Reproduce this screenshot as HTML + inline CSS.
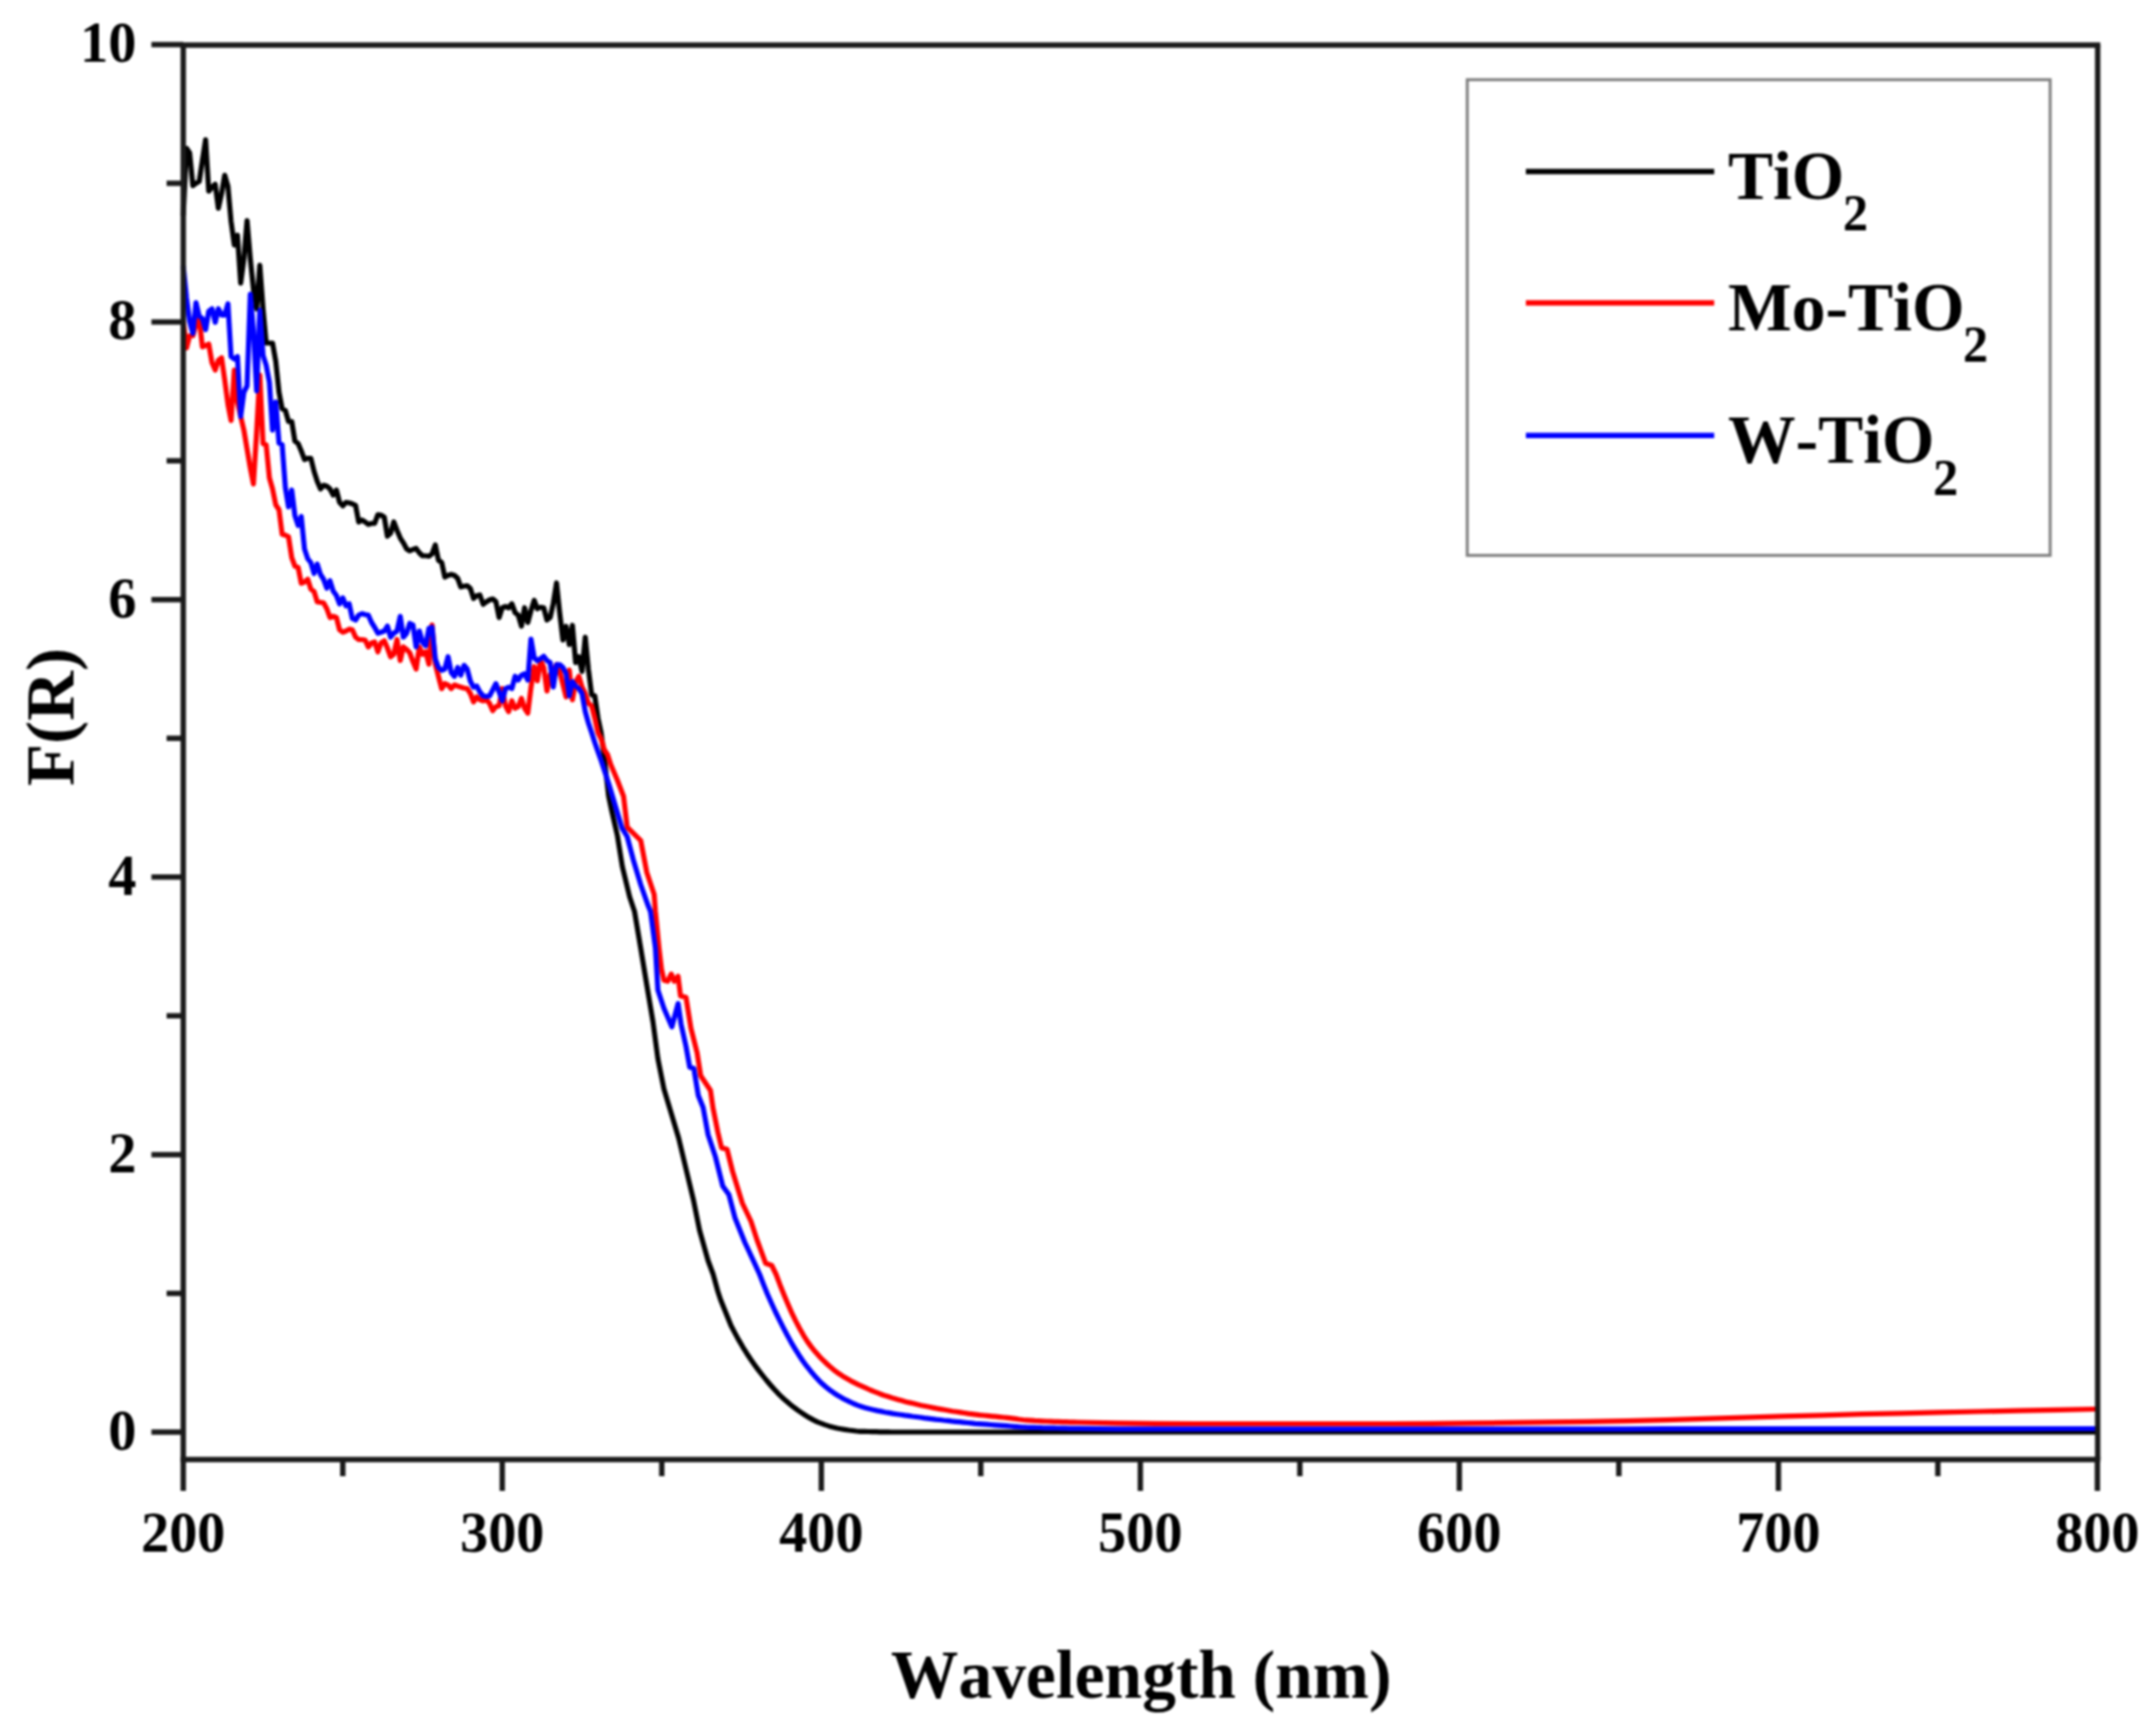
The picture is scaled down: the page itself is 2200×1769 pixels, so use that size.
<!DOCTYPE html>
<html><head><meta charset="utf-8"><title>F(R) vs Wavelength</title>
<style>
html,body{margin:0;padding:0;background:#fff;}
body{width:2200px;height:1769px;overflow:hidden;}
svg{display:block;filter:blur(0.8px);}
text{font-family:"Liberation Serif","Times New Roman",serif;font-weight:bold;fill:#000;font-kerning:none;}
</style></head><body>
<svg width="2200" height="1769" viewBox="0 0 2200 1769">
<rect width="2200" height="1769" fill="#fff"/>

<g fill="none" stroke-linejoin="round" stroke-linecap="butt" clip-path="url(#clip)">
<path d="M187.0 220.0 L190.3 151.3 L193.5 156.0 L196.8 189.4 L200.0 187.0 L203.3 185.0 L206.5 163.8 L209.8 142.5 L213.0 195.0 L216.3 191.0 L219.6 188.0 L222.8 212.5 L226.1 197.5 L229.3 178.8 L232.6 190.0 L235.8 226.0 L239.1 250.0 L242.3 240.0 L245.6 288.8 L248.9 264.0 L252.1 225.0 L255.4 264.0 L258.6 295.0 L261.9 315.0 L265.1 270.6 L268.4 315.0 L271.6 350.0 L274.9 350.0 L278.1 350.0 L281.4 368.8 L284.7 400.0 L287.9 417.0 L291.2 418.8 L294.4 430.0 L297.7 430.0 L300.9 450.0 L304.2 452.5 L307.4 460.0 L310.7 468.8 L314.0 467.5 L317.2 467.5 L320.5 481.0 L323.7 491.0 L327.0 498.8 L330.2 495.0 L333.5 496.0 L336.7 498.8 L340.0 505.0 L343.3 500.0 L346.5 512.5 L349.8 516.0 L353.0 512.5 L356.3 513.0 L359.5 514.0 L362.8 515.6 L366.0 532.5 L369.3 530.6 L372.6 532.5 L375.8 535.0 L379.1 534.0 L382.3 533.8 L385.6 525.0 L388.8 525.6 L392.1 527.5 L395.3 547.0 L398.6 543.8 L401.8 532.5 L405.1 541.0 L408.4 548.8 L411.6 553.8 L414.9 560.0 L418.1 562.0 L421.4 560.5 L424.6 559.5 L427.9 564.0 L431.1 567.0 L434.4 567.0 L437.7 567.5 L440.9 565.0 L444.2 556.0 L447.4 571.5 L450.7 573.8 L453.9 588.8 L457.2 587.0 L460.4 586.0 L463.7 587.0 L467.0 590.0 L470.2 598.8 L473.5 598.0 L476.7 597.5 L480.0 600.5 L483.2 610.5 L486.5 607.8 L489.7 607.0 L493.0 616.5 L496.3 614.0 L499.5 612.0 L502.8 611.0 L506.0 613.8 L509.3 630.0 L512.5 620.0 L515.8 618.8 L519.0 620.0 L522.3 616.0 L525.6 625.0 L528.8 627.5 L532.1 638.8 L535.3 620.0 L538.6 635.0 L541.8 623.0 L545.1 612.5 L548.3 621.0 L551.6 619.5 L554.8 620.0 L558.1 632.5 L561.4 630.0 L564.6 615.5 L567.9 594.7 L571.1 625.0 L574.4 653.0 L577.6 639.0 L580.9 657.5 L584.1 638.0 L587.4 676.0 L590.7 670.0 L593.9 685.0 L597.2 650.0 L600.4 682.5 L603.7 708.8 L606.9 710.0 L610.2 732.5 L613.4 747.5 L616.0 768.0 L621.0 812.0 L624.2 827.3 L630.0 852.5 L635.0 883.8 L642.5 915.0 L647.5 930.0 L653.8 967.5 L660.0 1005.0 L666.3 1042.5 L671.3 1080.0 L677.5 1111.0 L683.8 1132.0 L692.5 1161.0 L700.0 1192.5 L707.5 1223.8 L713.8 1255.0 L722.5 1286.0 L727.7 1300.0 L732.5 1317.5 L735.3 1326.0 L746.0 1352.5 L750.0 1360.1 L754.0 1367.4 L758.0 1374.3 L762.0 1380.7 L766.0 1386.7 L770.0 1392.4 L774.0 1397.9 L778.0 1403.0 L782.0 1408.0 L786.0 1412.7 L790.0 1417.3 L794.0 1421.6 L798.0 1425.5 L802.0 1429.1 L806.0 1432.5 L810.0 1435.7 L814.0 1438.7 L818.0 1441.4 L822.0 1444.0 L826.0 1446.4 L830.0 1448.6 L834.0 1450.6 L838.0 1452.1 L842.0 1453.6 L846.0 1454.9 L850.0 1456.0 L854.0 1457.0 L858.0 1457.7 L862.0 1458.4 L866.0 1459.0 L870.0 1459.5 L874.0 1460.0 L878.0 1460.3 L882.0 1460.4 L886.0 1460.5 L890.0 1460.6 L894.0 1460.7 L898.0 1460.8 L902.0 1460.9 L906.0 1460.9 L910.0 1461.0 L914.0 1461.0 L918.0 1461.0 L922.0 1461.0 L926.0 1461.0 L930.0 1461.0 L934.0 1461.0 L938.0 1461.0 L942.0 1461.0 L946.0 1461.0 L950.0 1461.0 L954.0 1461.0 L958.0 1461.0 L962.0 1461.0 L966.0 1461.0 L970.0 1461.0 L974.0 1461.0 L978.0 1461.0 L982.0 1461.0 L986.0 1461.0 L990.0 1461.0 L994.0 1461.0 L998.0 1461.0 L1002.0 1461.0 L1006.0 1461.0 L1010.0 1461.0 L1014.0 1461.0 L1018.0 1461.0 L1022.0 1461.0 L1026.0 1461.0 L1030.0 1461.0 L1034.0 1461.0 L1038.0 1461.0 L1042.0 1461.0 L1046.0 1461.0 L1050.0 1461.0 L1054.0 1461.0 L1058.0 1461.0 L1062.0 1461.0 L1066.0 1461.0 L1070.0 1461.0 L1074.0 1461.0 L1078.0 1461.0 L1082.0 1461.0 L1086.0 1461.0 L1090.0 1461.0 L1094.0 1461.0 L1098.0 1461.0 L1100.0 1461.0 L1140.0 1461.0 L1180.0 1461.0 L1220.0 1461.0 L1260.0 1461.0 L1300.0 1461.0 L1340.0 1461.0 L1380.0 1461.0 L1420.0 1461.0 L1460.0 1461.0 L1500.0 1461.0 L1540.0 1461.0 L1580.0 1461.0 L1620.0 1461.0 L1660.0 1461.0 L1700.0 1461.0 L1740.0 1461.0 L1780.0 1461.0 L1820.0 1461.0 L1860.0 1461.0 L1900.0 1461.0 L1940.0 1461.0 L1980.0 1461.0 L2020.0 1461.0 L2060.0 1461.0 L2100.0 1461.0 L2140.0 1461.0 L2140.5 1461.0" stroke="#000" stroke-width="5.2"/>
<path d="M187.0 327.5 L190.3 355.0 L193.5 342.5 L196.8 342.5 L200.0 331.0 L203.3 325.0 L206.5 353.8 L209.8 352.5 L213.0 351.0 L216.3 370.0 L219.6 377.5 L222.8 367.5 L226.1 365.0 L229.3 387.5 L232.6 412.5 L235.8 429.0 L239.1 377.5 L242.3 410.0 L245.6 425.0 L248.9 439.0 L252.1 458.0 L255.4 477.5 L258.6 493.8 L261.9 440.0 L265.1 382.5 L268.4 452.5 L271.6 453.8 L274.9 487.5 L278.1 498.8 L281.4 515.0 L284.7 520.0 L287.9 545.0 L291.2 546.0 L294.4 547.5 L297.7 568.8 L300.9 577.5 L304.2 578.8 L307.4 595.0 L310.7 593.8 L314.0 591.0 L317.2 601.0 L320.5 603.5 L323.7 614.0 L327.0 614.5 L330.2 615.0 L333.5 621.0 L336.7 630.0 L340.0 628.8 L343.3 630.0 L346.5 642.5 L349.8 645.0 L353.0 643.8 L356.3 641.9 L359.5 642.5 L362.8 650.0 L366.0 652.5 L369.3 652.5 L372.6 653.0 L375.8 660.0 L379.1 656.0 L382.3 655.0 L385.6 665.0 L388.8 656.0 L392.1 653.8 L395.3 661.0 L398.6 670.0 L401.8 667.5 L405.1 652.5 L408.4 673.8 L411.6 660.0 L414.9 662.5 L418.1 666.0 L421.4 675.0 L424.6 682.5 L427.9 660.0 L431.1 667.5 L434.4 665.0 L437.7 677.5 L440.9 637.5 L444.2 677.5 L447.4 690.0 L450.7 702.5 L453.9 697.5 L457.2 698.8 L460.4 702.5 L463.7 698.8 L467.0 700.0 L470.2 701.0 L473.5 702.0 L476.7 702.5 L480.0 707.5 L483.2 716.0 L486.5 711.0 L489.7 713.8 L493.0 715.0 L496.3 713.8 L499.5 717.5 L502.8 725.0 L506.0 721.0 L509.3 720.0 L512.5 702.5 L515.8 720.0 L519.0 726.0 L522.3 715.0 L525.6 722.5 L528.8 721.0 L532.1 712.5 L535.3 722.5 L538.6 727.5 L541.8 701.5 L545.1 680.0 L548.3 694.5 L551.6 673.5 L554.8 681.0 L558.1 705.0 L561.4 688.0 L564.6 684.5 L567.9 678.0 L571.1 685.0 L574.4 698.0 L577.6 711.0 L580.9 683.5 L584.1 714.0 L587.4 695.5 L590.7 690.0 L593.9 701.0 L597.2 707.5 L600.4 717.5 L603.7 720.0 L606.9 732.5 L610.2 747.5 L613.4 753.8 L616.7 765.0 L620.0 770.0 L623.2 780.0 L630.0 796.0 L636.3 812.5 L640.0 843.8 L653.8 857.5 L660.0 890.0 L667.5 912.5 L668.8 930.0 L672.5 967.5 L675.0 988.8 L677.5 1000.0 L681.3 1001.0 L685.0 993.8 L688.0 1001.0 L691.9 996.0 L694.4 1016.0 L700.0 1017.5 L705.0 1048.8 L711.3 1073.8 L715.0 1097.5 L725.0 1112.5 L727.5 1130.0 L732.5 1155.0 L736.3 1171.0 L741.9 1172.5 L747.5 1195.0 L757.5 1227.5 L766.3 1246.0 L772.5 1265.0 L781.3 1288.8 L787.5 1291.0 L791.9 1300.0 L795.9 1310.7 L799.9 1320.7 L803.9 1330.3 L807.9 1339.4 L811.9 1347.6 L815.9 1355.3 L819.9 1362.3 L823.9 1368.6 L827.9 1374.1 L831.9 1379.1 L835.9 1383.6 L839.9 1387.7 L843.9 1391.5 L847.9 1395.1 L851.9 1398.4 L855.9 1401.3 L859.9 1403.9 L863.9 1406.3 L867.9 1408.6 L871.9 1410.6 L875.9 1412.6 L879.9 1414.4 L883.9 1416.2 L887.9 1418.0 L891.9 1419.6 L895.9 1421.2 L899.9 1422.7 L903.9 1424.1 L907.9 1425.3 L911.9 1426.6 L915.9 1427.7 L919.9 1428.8 L923.9 1429.9 L927.9 1430.9 L931.9 1431.8 L935.9 1432.8 L939.9 1433.7 L943.9 1434.5 L947.9 1435.3 L951.9 1436.1 L955.9 1436.9 L959.9 1437.6 L963.9 1438.3 L967.9 1439.0 L971.9 1439.7 L975.9 1440.3 L979.9 1440.9 L983.9 1441.5 L987.9 1442.1 L991.9 1442.6 L995.9 1443.1 L999.9 1443.6 L1003.9 1444.0 L1007.9 1444.4 L1011.9 1444.8 L1015.9 1445.2 L1019.9 1445.6 L1023.9 1446.0 L1027.9 1446.4 L1031.9 1446.9 L1035.9 1447.4 L1039.9 1448.0 L1043.9 1448.5 L1047.9 1448.8 L1051.9 1449.1 L1055.9 1449.4 L1059.9 1449.6 L1063.9 1449.8 L1067.9 1450.0 L1071.9 1450.1 L1075.9 1450.3 L1079.9 1450.4 L1083.9 1450.6 L1087.9 1450.7 L1091.9 1450.8 L1095.9 1450.9 L1099.9 1451.0 L1100.0 1451.0 L1140.0 1451.9 L1180.0 1452.4 L1220.0 1452.5 L1260.0 1452.5 L1300.0 1452.5 L1340.0 1452.5 L1380.0 1452.5 L1420.0 1452.5 L1460.0 1452.3 L1500.0 1451.9 L1540.0 1451.4 L1580.0 1450.9 L1620.0 1450.3 L1660.0 1449.6 L1700.0 1448.6 L1740.0 1447.4 L1780.0 1446.2 L1820.0 1444.9 L1860.0 1443.8 L1900.0 1442.7 L1940.0 1441.8 L1980.0 1440.9 L2020.0 1440.0 L2060.0 1439.1 L2100.0 1438.3 L2140.0 1437.5 L2140.5 1437.5" stroke="#f00" stroke-width="5.2"/>
<path d="M187.0 271.3 L190.3 303.8 L193.5 327.5 L196.8 340.0 L200.0 308.8 L203.3 322.5 L206.5 325.0 L209.8 336.3 L213.0 317.5 L216.3 315.0 L219.6 328.8 L222.8 315.0 L226.1 321.3 L229.3 321.3 L232.6 310.0 L235.8 363.8 L239.1 366.3 L242.3 363.8 L245.6 425.0 L248.9 400.0 L252.1 393.8 L255.4 300.0 L258.6 337.5 L261.9 398.8 L265.1 316.3 L268.4 362.5 L271.6 372.5 L274.9 390.0 L278.1 438.8 L281.4 410.0 L284.7 452.0 L287.9 453.8 L291.2 497.5 L294.4 517.0 L297.7 500.0 L300.9 526.0 L304.2 536.0 L307.4 527.0 L310.7 560.0 L314.0 570.0 L317.2 574.0 L320.5 585.0 L323.7 575.5 L327.0 586.0 L330.2 591.0 L333.5 600.0 L336.7 592.5 L340.0 603.0 L343.3 607.5 L346.5 616.0 L349.8 610.0 L353.0 618.0 L356.3 616.0 L359.5 631.0 L362.8 632.5 L366.0 627.5 L369.3 626.0 L372.6 627.0 L375.8 627.5 L379.1 635.0 L382.3 640.0 L385.6 646.0 L388.8 645.0 L392.1 643.8 L395.3 638.8 L398.6 650.0 L401.8 646.0 L405.1 643.8 L408.4 628.8 L411.6 650.0 L414.9 646.0 L418.1 636.0 L421.4 637.5 L424.6 660.0 L427.9 643.8 L431.1 655.0 L434.4 658.8 L437.7 641.0 L440.9 640.0 L444.2 672.5 L447.4 681.0 L450.7 683.8 L453.9 682.5 L457.2 670.0 L460.4 686.0 L463.7 690.0 L467.0 681.0 L470.2 688.8 L473.5 678.8 L476.7 682.5 L480.0 695.0 L483.2 701.0 L486.5 700.0 L489.7 706.0 L493.0 710.0 L496.3 710.6 L499.5 710.0 L502.8 703.8 L506.0 697.5 L509.3 706.0 L512.5 715.0 L515.8 702.5 L519.0 701.0 L522.3 702.5 L525.6 690.0 L528.8 693.8 L532.1 688.8 L535.3 687.5 L538.6 693.8 L541.8 652.0 L545.1 671.0 L548.3 674.0 L551.6 672.0 L554.8 669.5 L558.1 673.8 L561.4 676.0 L564.6 701.0 L567.9 678.0 L571.1 678.0 L574.4 681.0 L577.6 687.0 L580.9 710.0 L584.1 695.5 L587.4 700.0 L590.7 702.5 L593.9 707.5 L597.2 726.0 L600.4 737.5 L603.7 747.5 L606.9 757.5 L610.2 767.0 L613.4 776.0 L621.3 800.0 L627.7 821.5 L634.6 844.6 L640.0 853.5 L646.3 877.5 L653.8 902.5 L661.3 923.8 L663.8 930.0 L668.8 967.5 L671.3 1010.0 L677.5 1028.8 L685.6 1047.5 L691.9 1023.8 L695.0 1045.0 L700.0 1067.5 L703.8 1088.8 L708.0 1090.0 L712.5 1117.5 L717.5 1130.0 L722.5 1157.5 L730.0 1180.0 L737.5 1210.0 L743.8 1218.8 L750.0 1242.5 L760.0 1267.5 L770.0 1288.8 L775.1 1300.0 L779.1 1310.4 L783.1 1320.2 L787.1 1329.3 L791.1 1338.0 L795.1 1346.2 L799.1 1354.1 L803.1 1361.8 L807.1 1369.1 L811.1 1375.8 L815.1 1382.2 L819.1 1388.2 L823.1 1393.7 L827.1 1398.7 L831.1 1403.4 L835.1 1407.8 L839.1 1411.8 L843.1 1415.3 L847.1 1418.4 L851.1 1421.2 L855.1 1423.8 L859.1 1426.1 L863.1 1428.2 L867.1 1430.1 L871.1 1432.0 L875.1 1433.6 L879.1 1435.0 L883.1 1436.2 L887.1 1437.3 L891.1 1438.2 L895.1 1439.1 L899.1 1439.9 L903.1 1440.7 L907.1 1441.4 L911.1 1442.1 L915.1 1442.7 L919.1 1443.3 L923.1 1443.9 L927.1 1444.4 L931.1 1445.0 L935.1 1445.5 L939.1 1446.0 L943.1 1446.6 L947.1 1447.1 L951.1 1447.6 L955.1 1448.1 L959.1 1448.5 L963.1 1449.0 L967.1 1449.4 L971.1 1449.9 L975.1 1450.3 L979.1 1450.7 L983.1 1451.1 L987.1 1451.5 L991.1 1451.9 L995.1 1452.3 L999.1 1452.6 L1003.1 1452.9 L1007.1 1453.2 L1011.1 1453.5 L1015.1 1453.8 L1019.1 1454.1 L1023.1 1454.4 L1027.1 1454.7 L1031.1 1455.0 L1035.1 1455.3 L1039.1 1455.7 L1043.1 1456.0 L1047.1 1456.2 L1051.1 1456.3 L1055.1 1456.4 L1059.1 1456.5 L1063.1 1456.7 L1067.1 1456.8 L1071.1 1456.8 L1075.1 1456.9 L1079.1 1457.0 L1083.1 1457.1 L1087.1 1457.2 L1091.1 1457.3 L1095.1 1457.3 L1099.1 1457.4 L1100.0 1457.4 L1140.0 1457.8 L1180.0 1457.8 L1220.0 1457.8 L1260.0 1457.8 L1300.0 1457.8 L1340.0 1457.8 L1380.0 1457.8 L1420.0 1457.8 L1460.0 1457.8 L1500.0 1457.8 L1540.0 1457.8 L1580.0 1457.8 L1620.0 1457.8 L1660.0 1457.8 L1700.0 1457.7 L1740.0 1457.7 L1780.0 1457.7 L1820.0 1457.7 L1860.0 1457.7 L1900.0 1457.7 L1940.0 1457.6 L1980.0 1457.6 L2020.0 1457.6 L2060.0 1457.6 L2100.0 1457.5 L2140.0 1457.5 L2140.5 1457.5" stroke="#00f" stroke-width="5.2"/>
</g>
<defs><clipPath id="clip"><rect x="184" y="46" width="1960" height="1443"/></clipPath></defs>
<g stroke="#1a1a1a" stroke-width="5.5" fill="none">
<path d="M184.2 46.0 H2143.2"/>
<path d="M184.2 1489.0 H2143.2"/>
<path d="M187.0 46.0 V1489.0"/>
<path d="M2140.5 46.0 V1489.0"/>
<path d="M154.5 1461.0 H187.0"/>
<path d="M170.0 1319.5 H187.0"/>
<path d="M154.5 1177.9 H187.0"/>
<path d="M170.0 1036.3 H187.0"/>
<path d="M154.5 894.8 H187.0"/>
<path d="M170.0 753.2 H187.0"/>
<path d="M154.5 611.7 H187.0"/>
<path d="M170.0 470.1 H187.0"/>
<path d="M154.5 328.6 H187.0"/>
<path d="M170.0 187.0 H187.0"/>
<path d="M154.5 45.5 H187.0"/>
<path d="M187.0 1489.0 V1521.0"/>
<path d="M349.8 1489.0 V1506.0"/>
<path d="M512.5 1489.0 V1521.0"/>
<path d="M675.3 1489.0 V1506.0"/>
<path d="M838.1 1489.0 V1521.0"/>
<path d="M1000.8 1489.0 V1506.0"/>
<path d="M1163.6 1489.0 V1521.0"/>
<path d="M1326.4 1489.0 V1506.0"/>
<path d="M1489.1 1489.0 V1521.0"/>
<path d="M1651.9 1489.0 V1506.0"/>
<path d="M1814.7 1489.0 V1521.0"/>
<path d="M1977.4 1489.0 V1506.0"/>
<path d="M2140.2 1489.0 V1521.0"/>
</g>
<g font-size="60">
<text x="139.2" y="1478.8" text-anchor="end" textLength="28.7" lengthAdjust="spacingAndGlyphs">0</text>
<text x="139.2" y="1195.7" text-anchor="end" textLength="28.7" lengthAdjust="spacingAndGlyphs">2</text>
<text x="139.2" y="912.6" text-anchor="end" textLength="28.7" lengthAdjust="spacingAndGlyphs">4</text>
<text x="139.2" y="629.5" text-anchor="end" textLength="28.7" lengthAdjust="spacingAndGlyphs">6</text>
<text x="139.2" y="346.4" text-anchor="end" textLength="28.7" lengthAdjust="spacingAndGlyphs">8</text>
<text x="139.2" y="63.3" text-anchor="end" textLength="57.4" lengthAdjust="spacingAndGlyphs">10</text>
<text x="187.0" y="1583" text-anchor="middle" textLength="86" lengthAdjust="spacingAndGlyphs">200</text>
<text x="512.5" y="1583" text-anchor="middle" textLength="86" lengthAdjust="spacingAndGlyphs">300</text>
<text x="838.1" y="1583" text-anchor="middle" textLength="86" lengthAdjust="spacingAndGlyphs">400</text>
<text x="1163.6" y="1583" text-anchor="middle" textLength="86" lengthAdjust="spacingAndGlyphs">500</text>
<text x="1489.1" y="1583" text-anchor="middle" textLength="86" lengthAdjust="spacingAndGlyphs">600</text>
<text x="1814.7" y="1583" text-anchor="middle" textLength="86" lengthAdjust="spacingAndGlyphs">700</text>
<text x="2140.2" y="1583" text-anchor="middle" textLength="86" lengthAdjust="spacingAndGlyphs">800</text>
</g>
<text x="1164.5" y="1731.6" font-size="68.9" text-anchor="middle">Wavelength (nm)</text>
<text transform="translate(75 731.5) rotate(-90)" font-size="70.6" text-anchor="middle">F(R)</text>
<rect x="1497.2" y="81.3" width="594.8" height="485.3" fill="#fff" stroke="#7f7f7f" stroke-width="3"/>
<path d="M1557 175.1 H1749.2" stroke="#000" stroke-width="5.5" fill="none"/>
<g transform="translate(1763.2 202.6) scale(0.98 1)"><text x="0" y="0" font-size="70.4">TiO<tspan font-size="52.5" dx="-1.5" dy="32.3">2</tspan></text></g>
<path d="M1557 309.1 H1749.2" stroke="#f00" stroke-width="5.5" fill="none"/>
<g transform="translate(1763.2 337.0) scale(0.98 1)"><text x="0" y="0" font-size="70.4">Mo-TiO<tspan font-size="52.5" dx="-1.5" dy="32.3">2</tspan></text></g>
<path d="M1557 444.2 H1749.2" stroke="#00f" stroke-width="5.5" fill="none"/>
<g transform="translate(1763.2 472.4) scale(0.98 1)"><text x="0" y="0" font-size="70.4">W-TiO<tspan font-size="52.5" dx="-1.5" dy="32.3">2</tspan></text></g>
</svg></body></html>
